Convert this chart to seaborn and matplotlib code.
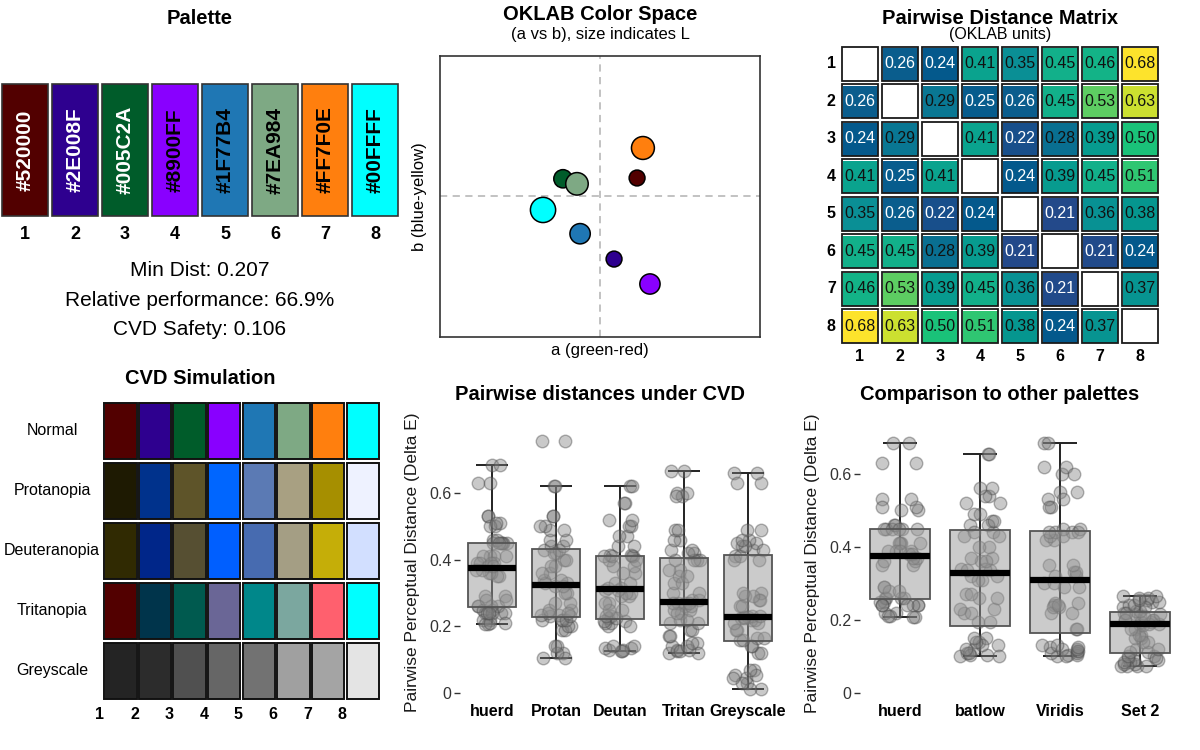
import numpy as np
import pandas as pd
import matplotlib
matplotlib.use("Agg")
import matplotlib.pyplot as plt
from matplotlib.colors import ListedColormap, LinearSegmentedColormap
from matplotlib.patches import Rectangle
import seaborn as sns

# ---------------- data ----------------
palette_hex = ["#520000", "#2E008F", "#005C2A", "#8900FF", "#1F77B4", "#7EA984", "#FF7F0E", "#00FFFF"]
palette_idx = ["1", "2", "3", "4", "5", "6", "7", "8"]
hex_text_color = ["white", "white", "white", "black", "black", "black", "black", "black"]
stats_lines = ["Min Dist: 0.207", "Relative performance: 66.9%", "CVD Safety: 0.106"]

oklab_a = [0.095, 0.036, -0.095, 0.128, -0.051, -0.059, 0.110, -0.146]
oklab_b = [0.046, -0.162, 0.044, -0.226, -0.097, 0.031, 0.123, -0.036]
oklab_L = [0.30, 0.30, 0.43, 0.55, 0.555, 0.70, 0.73, 0.905]

nan = np.nan
dist_matrix = [
    [nan, 0.26, 0.24, 0.41, 0.35, 0.45, 0.46, 0.684],
    [0.26, nan, 0.29, 0.25, 0.26, 0.45, 0.53, 0.63],
    [0.24, 0.29, nan, 0.41, 0.22, 0.28, 0.39, 0.50],
    [0.41, 0.25, 0.41, nan, 0.24, 0.39, 0.45, 0.51],
    [0.35, 0.26, 0.22, 0.24, nan, 0.207, 0.36, 0.38],
    [0.45, 0.45, 0.28, 0.39, 0.207, nan, 0.21, 0.24],
    [0.46, 0.53, 0.39, 0.45, 0.36, 0.21, nan, 0.37],
    [0.684, 0.63, 0.50, 0.51, 0.38, 0.24, 0.37, nan],
]

cvd_rows = ["Normal", "Protanopia", "Deuteranopia", "Tritanopia", "Greyscale"]
cvd_normal = palette_hex
cvd_protan = ["#1E1A02", "#00328C", "#5E5429", "#0066FF", "#5B7AB4", "#A8A082", "#A68F00", "#EEF2FF"]
cvd_deutan = ["#302A02", "#002689", "#564F32", "#005FFF", "#476BB0", "#A49E84", "#C5AE08", "#D2DFFF"]
cvd_tritan = ["#520000", "#00344B", "#005A4F", "#6A6696", "#00878A", "#7BA79F", "#FF606E", "#00FFFF"]
cvd_grey = ["#242424", "#2C2C2C", "#505050", "#666666", "#727272", "#A0A0A0", "#A4A4A4", "#E4E4E4"]

cvd_groups = ["huerd", "Protan", "Deutan", "Tritan", "Greyscale"]
protan_dist = [0.105, 0.12, 0.14, 0.19, 0.20, 0.22, 0.22, 0.23, 0.235, 0.24, 0.25, 0.27, 0.30, 0.32,
               0.33, 0.34, 0.36, 0.38, 0.40, 0.42, 0.43, 0.44, 0.46, 0.49, 0.50, 0.53, 0.62, 0.755]
deutan_dist = [0.125, 0.13, 0.135, 0.14, 0.20, 0.21, 0.215, 0.225, 0.23, 0.25, 0.27, 0.29, 0.30, 0.31,
               0.316, 0.33, 0.36, 0.38, 0.40, 0.41, 0.41, 0.415, 0.44, 0.47, 0.50, 0.52, 0.57, 0.622]
tritan_dist = [0.12, 0.125, 0.13, 0.14, 0.15, 0.17, 0.19, 0.21, 0.22, 0.24, 0.25, 0.26, 0.27, 0.27,
               0.278, 0.30, 0.33, 0.35, 0.37, 0.40, 0.40, 0.42, 0.43, 0.46, 0.49, 0.59, 0.60, 0.665]
grey_dist = [0.012, 0.03, 0.045, 0.055, 0.07, 0.12, 0.14, 0.16, 0.165, 0.19, 0.21, 0.22, 0.225, 0.227,
             0.23, 0.26, 0.28, 0.29, 0.30, 0.40, 0.41, 0.43, 0.44, 0.45, 0.46, 0.49, 0.63, 0.66]

compare_groups = ["huerd", "batlow", "Viridis", "Set 2"]
batlow_dist = [0.10, 0.105, 0.11, 0.12, 0.13, 0.14, 0.15, 0.193, 0.22, 0.23, 0.26, 0.27, 0.31, 0.32,
               0.336, 0.34, 0.36, 0.37, 0.40, 0.43, 0.44, 0.46, 0.47, 0.49, 0.52, 0.54, 0.56, 0.655]
viridis_dist = [0.10, 0.105, 0.11, 0.115, 0.12, 0.125, 0.13, 0.175, 0.22, 0.235, 0.24, 0.245, 0.29, 0.30,
                0.32, 0.33, 0.35, 0.42, 0.43, 0.44, 0.44, 0.45, 0.51, 0.53, 0.55, 0.60, 0.62, 0.685]
set2_dist = [0.073, 0.075, 0.08, 0.085, 0.09, 0.095, 0.10, 0.113, 0.12, 0.14, 0.15, 0.16, 0.175, 0.185,
             0.19, 0.195, 0.20, 0.20, 0.21, 0.215, 0.22, 0.225, 0.235, 0.24, 0.25, 0.255, 0.26, 0.265]

# ---------------- style ----------------
sns.set_style("white")
plt.rcParams["font.family"] = ["Liberation Sans", "DejaVu Sans"]
plt.rcParams["text.color"] = "black"
plt.rcParams["axes.labelcolor"] = "black"
plt.rcParams["xtick.color"] = "black"
plt.rcParams["ytick.color"] = "black"
np.random.seed(7)

W, H = 1200, 750
fig = plt.figure(figsize=(12, 7.5), dpi=100)


def px_axes(x0, y0, x1, y1):
    return fig.add_axes([x0 / W, 1 - y1 / H, (x1 - x0) / W, (y1 - y0) / H])


def ftext(x, y, s, **kw):
    fig.text(x / W, 1 - y / H, s, ha="center", va="center", **kw)


# ---------------- Panel 1: palette ----------------
ax1 = px_axes(0, 84, 400, 216)
sns.barplot(x=palette_idx, y=[1] * 8, hue=palette_idx, palette=dict(zip(palette_idx, palette_hex)),
            legend=False, width=0.92, saturation=1, edgecolor="#333333", linewidth=1.2, ax=ax1)
for p in ax1.patches:
    p.set_clip_on(False)
for i, (hx, tc) in enumerate(zip(palette_hex, hex_text_color)):
    ax1.text(i, 0.5, hx, rotation=90, ha="center", va="center", color=tc,
             fontsize=15, fontweight="bold")
ax1.set_xlim(-0.5, 7.5)
ax1.set_ylim(0, 1)
ax1.set_yticks([])
ax1.set_ylabel("")
ax1.set_xlabel("")
ax1.tick_params(axis="x", length=0, pad=7)
for lab in ax1.get_xticklabels():
    lab.set_fontweight("bold")
    lab.set_fontsize(13)
sns.despine(ax=ax1, left=True, bottom=True)
ftext(200, 18, "Palette", fontsize=14.5, fontweight="bold")
for k, s in enumerate(stats_lines):
    ftext(200, 270 + 30 * k, s, fontsize=15)

# ---------------- Panel 2: OKLAB ----------------
ax2 = px_axes(440, 56, 760, 337)
ok_df = pd.DataFrame({"a": oklab_a, "b": oklab_b, "L": oklab_L, "hex": palette_hex})
ax2.axvline(0, color="#BDBDBD", lw=1.3, ls=(0, (4, 3)), zorder=1)
ax2.axhline(0, color="#BDBDBD", lw=1.3, ls=(0, (4, 3)), zorder=1)
sns.scatterplot(data=ok_df, x="a", y="b", hue="hex", palette=dict(zip(palette_hex, palette_hex)),
                size="L", sizes=(130, 330), size_norm=(0.30, 0.905), edgecolor="black",
                linewidth=1.1, legend=False, ax=ax2, zorder=3)
ax2.set_xlim(-0.41, 0.41)
ax2.set_ylim(-0.362, 0.359)
ax2.set_xticks([])
ax2.set_yticks([])
ax2.set_xlabel("a (green-red)", fontsize=12, labelpad=4)
ax2.set_ylabel("b (blue-yellow)", fontsize=12, labelpad=9)
for sp in ax2.spines.values():
    sp.set_visible(True)
    sp.set_color("#333333")
    sp.set_linewidth(1.2)
ftext(600, 15, "OKLAB Color Space", fontsize=14.5, fontweight="bold")
ftext(600, 34, "(a vs b), size indicates L", fontsize=12)

# ---------------- Panel 3: distance matrix ----------------
ax3 = px_axes(840, 45, 1160, 345)
mat = pd.DataFrame(dist_matrix, index=palette_idx, columns=palette_idx)
dist_cmap = LinearSegmentedColormap.from_list("dist", [
    (0.0, "#23498A"), (0.069, "#035A8C"), (0.111, "#0A5D8D"), (0.174, "#097893"),
    (0.30, "#0A8F95"), (0.363, "#05968F"), (0.426, "#0AA48E"), (0.509, "#12B08A"),
    (0.614, "#18C27A"), (0.677, "#5CCD62"), (0.887, "#CBE030"), (1.0, "#FDE32C")])
sns.heatmap(mat, mask=np.isnan(mat.values), cmap=dist_cmap, vmin=0.207, vmax=0.684,
            annot=True, fmt=".2f", annot_kws={"size": 11.5}, linewidths=2.4, linecolor="white",
            cbar=False, ax=ax3)
for t in ax3.texts:
    t.set_color("white" if float(t.get_text()) < 0.27 else "#111111")
n = len(palette_idx)
for i in range(n):
    for j in range(n):
        ax3.add_patch(Rectangle((j + 0.045, i + 0.05), 0.91, 0.9, fill=False,
                                edgecolor="#1a1a1a", lw=1.3, zorder=5))
ax3.tick_params(length=0, pad=3)
ax3.set_yticklabels(palette_idx, rotation=0, fontsize=11.5, fontweight="bold")
ax3.set_xticklabels(palette_idx, rotation=0, fontsize=11.5, fontweight="bold")
ax3.set_xlabel("")
ax3.set_ylabel("")
ftext(1000, 18, "Pairwise Distance Matrix", fontsize=14.5, fontweight="bold")
ftext(1000, 34, "(OKLAB units)", fontsize=11.5)

# ---------------- Panel 4: CVD simulation ----------------
ax4 = px_axes(100, 401, 380, 701)
cvd_sets = [cvd_normal, cvd_protan, cvd_deutan, cvd_tritan, cvd_grey]
all_cols = [c for row in cvd_sets for c in row]
idx = np.arange(len(all_cols)).reshape(len(cvd_sets), n)
sns.heatmap(idx, cmap=ListedColormap(all_cols), vmin=-0.5, vmax=len(all_cols) - 0.5,
            cbar=False, linewidths=1.7, linecolor="white", ax=ax4)
for i in range(len(cvd_sets)):
    for j in range(n):
        ax4.add_patch(Rectangle((j + 0.033, i + 0.028), 0.934, 0.944, fill=False,
                                edgecolor="#111111", lw=1.4, zorder=5))
ax4.set_xticks(np.arange(n) - 0.09)
ax4.set_xticklabels(palette_idx, fontsize=11.5, fontweight="bold", rotation=0)
ax4.set_yticks(np.arange(len(cvd_rows)) + 0.5)
ax4.set_yticklabels(cvd_rows, rotation=0, fontsize=11.5, ha="center")
ax4.tick_params(axis="x", length=0, pad=4)
ax4.tick_params(axis="y", length=0, pad=34.5)
ftext(200, 379, "CVD Simulation", fontsize=14.5, fontweight="bold")


# ---------------- Panels 5 & 6: boxplots ----------------
def box_panel(ax, groups, values, ylim, capw):
    rows = []
    for g, v in zip(groups, values):
        for val in v:
            rows.append((g, val))
    df = pd.DataFrame(rows, columns=["group", "dist"])
    for i, v in enumerate(values):
        arr = np.asarray(v)
        q1, q3 = np.percentile(arr, [25, 75])
        iqr = q3 - q1
        lo = arr[arr >= q1 - 1.5 * iqr].min()
        hi = arr[arr <= q3 + 1.5 * iqr].max()
        ax.vlines(i, lo, hi, color="#222222", lw=1.4, zorder=1)
        ax.hlines([lo, hi], i - capw, i + capw, color="#222222", lw=1.4, zorder=1)
    sns.stripplot(data=df, x="group", y="dist", order=groups, jitter=0.25, size=9,
                  color="#808080", edgecolor="#4a4a4a", linewidth=1, alpha=0.42, ax=ax, zorder=2)
    sns.boxplot(data=df, x="group", y="dist", order=groups, width=0.75, showfliers=False,
                showcaps=False, saturation=1, color="#999999",
                boxprops=dict(zorder=3), whiskerprops=dict(linewidth=0),
                medianprops=dict(color="black", linewidth=4.5, zorder=4), ax=ax)
    for p in ax.patches:
        p.set_facecolor((0.6, 0.6, 0.6, 0.5))
        p.set_edgecolor("#555555")
        p.set_linewidth(1.3)
        p.set_zorder(3)
    ax.set_xlim(-0.5, len(groups) - 0.5)
    ax.set_ylim(*ylim)
    ax.set_yticks([0, 0.2, 0.4, 0.6])
    ax.set_yticklabels(["0", "0.2", "0.4", "0.6"])
    ax.tick_params(axis="y", length=4, width=1, color="#333333", labelsize=11.5,
                   labelcolor="#333333", pad=2, left=True)
    ax.tick_params(axis="x", length=0, pad=5)
    for lab in ax.get_xticklabels():
        lab.set_fontweight("bold")
        lab.set_fontsize(11.5)
        lab.set_color("black")
    ax.set_xlabel("")
    ax.set_ylabel("Pairwise Perceptual Distance (Delta E)", fontsize=12.5, color="#1a1a1a")
    ax.yaxis.set_label_coords(-0.125, 0.5)
    sns.despine(ax=ax, left=True, bottom=True)


huerd_dist = [v for row in dist_matrix for v in row if not np.isnan(v)]

ax5 = px_axes(460, 427, 780, 697)
box_panel(ax5, cvd_groups,
          [huerd_dist, protan_dist * 2, deutan_dist * 2, tritan_dist * 2, grey_dist * 2],
          (-0.012, 0.798), 0.25)
ftext(600, 394, "Pairwise distances under CVD", fontsize=14.5, fontweight="bold")

ax6 = px_axes(860, 430, 1180, 697)
box_panel(ax6, compare_groups,
          [huerd_dist, batlow_dist * 2, viridis_dist * 2, set2_dist * 2],
          (-0.011, 0.72), 0.21)
ftext(1000, 394, "Comparison to other palettes", fontsize=14.5, fontweight="bold")

fig.savefig("out.png", dpi=100)
